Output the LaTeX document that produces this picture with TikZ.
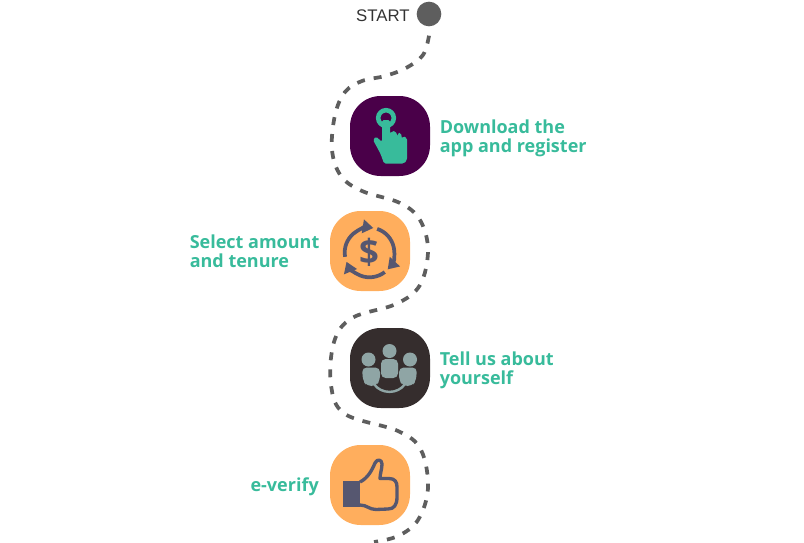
\documentclass[tikz,border=0pt]{standalone}
\usepackage{fontspec}
\setmainfont{Open Sans}
\newfontfamily\startfont{Liberation Sans}
\usetikzlibrary{arrows.meta}
\definecolor{stepteal}{HTML}{38BB9B}
\definecolor{steppurple}{HTML}{4A0049}
\definecolor{steporange}{HTML}{FFAE5D}
\definecolor{stepdark}{HTML}{352D2D}
\definecolor{iconslate}{HTML}{565770}
\definecolor{icongrey}{HTML}{8FA5A5}
\definecolor{trailgrey}{HTML}{5E5E5E}
\tikzset{
	stepbox/.style={minimum size=60pt,inner sep=0pt,rounded corners=23pt},
	steplabel/.style={inner sep=0pt,text=stepteal,align=left,font=\fontsize{13.5}{14.25}\selectfont\bfseries},
	trail/.style={trailgrey,line width=2.8pt,dash pattern=on 6pt off 6.75pt},
	loopline/.style={iconslate,line width=2.8pt,-{Triangle[length=8pt,width=10pt]}}
}
\begin{document}
\begin{tikzpicture}[x=0.75pt,y=-0.75pt]
	\useasboundingbox (0,0) rectangle (804,543);
	
	% Start point
	\node[circle,fill=trailgrey,minimum size=18.5pt,inner sep=0pt,outer sep=7pt] (start) at (429,14) {};
	\node[inner sep=0pt,anchor=east,text=black!80,font=\fontsize{12.6}{14}\startfont] (startlabel) at (410,16) {START};
	
	% Boxes
	\node[stepbox,fill=steppurple] (download) at (390,136) {};
	\node[stepbox,fill=steporange] (amount) at (370,251) {};
	\node[stepbox,fill=stepdark] (about) at (390,368) {};
	\node[stepbox,fill=steporange] (verify) at (370,485) {};
	
	% Labels
	\node[steplabel,anchor=west] (downloadlabel) at (439.5,138.5) {Download the\\app and register};
	\node[steplabel,anchor=west] (amountlabel) at (189.5,251) {Select amount\\and tenure};
	\node[steplabel,anchor=west] (aboutlabel) at (439.5,370.5) {Tell us about\\yourself};
	\node[steplabel,anchor=east] (verifylabel) at (319,487) {e-verify};
	
	% Dashed path
	\coordinate (trailend) at (374,542);
	\draw[trail] plot[smooth,tension=.6] coordinates {(start.south) (423,55) (406,68) (385,76) (362,81) (345,92) (335,115) (332,150) (341,176) (362,191) (400,203) (420,220) (428,250) (420,285) (396,304) (352,318) (334,342) (331,385) (345,414) (398,431) (421,450) (428,488) (418,520) (398,536) (trailend)};
	
	% Hand
	\draw[stepteal,line width=3.4pt] (386,118) circle[radius=7.8];
	\fill[stepteal,rounded corners=1.2pt] (382,120) -- (390,120) -- (390,134) -- (392,131) -- (396,131.5) -- (397.5,137) -- (398,132.5) -- (401,133) -- (402,139) -- (403,136) -- (407,138) -- (407,160) -- (404,163.5) -- (384,163.5) -- (381,155) -- (378,149) -- (373,140) -- (376,136.5) -- (382,142) -- cycle;
	
	% Circular arrows with dollar
	\coordinate (loopcentre) at (369.5,252.5);
	\foreach \from/\to in {190/81,72/-43,-52/-158}
		\draw[loopline] ([shift={(\from:18.6pt)}]loopcentre) arc[start angle=\from,end angle=\to,radius=18.6pt];
	\node[inner sep=0pt,text=iconslate,font=\fontsize{26}{26}\selectfont\bfseries] (dollar) at (369,252.5) {\$};
	
	% People
	\fill[icongrey] (389.5,351) circle[radius=7];
	\fill[icongrey] (368.5,359.5) circle[radius=7];
	\fill[icongrey] (410,359.5) circle[radius=7];
	\fill[icongrey,rounded corners=3.5pt] (381,359) rectangle (398,378);
	\fill[icongrey,rounded corners=3.5pt] (362,367.5) -- (380,367.5) -- (380,380) -- (376,386) -- (367,386) -- (363,381) -- cycle;
	\fill[icongrey,rounded corners=3.5pt] (399,367.5) -- (417,367.5) -- (416,381) -- (412,386) -- (403,386) -- (399,380) -- cycle;
	\draw[icongrey,line width=1.8pt] (374,384) .. controls (381,394.5) and (398,394.5) .. (405,384);
	
	% Thumb
	\fill[iconslate] (343,481) rectangle (360,507);
	\draw[iconslate,line width=2.5pt,line join=round] (360,482) .. controls (368,478) and (372,470) .. (375,463) .. controls (377,458.5) and (382,459.5) .. (382,464) .. controls (382,469) and (380,474) .. (380,478.5) -- (389,478.5) .. controls (395,478.5) and (397,482) .. (397,487) -- (397,497) .. controls (397,505) and (394,509) .. (388,509) -- (376,509.5) .. controls (369,509.5) and (367,505) .. (360,505);
	
\end{tikzpicture}
\end{document}
